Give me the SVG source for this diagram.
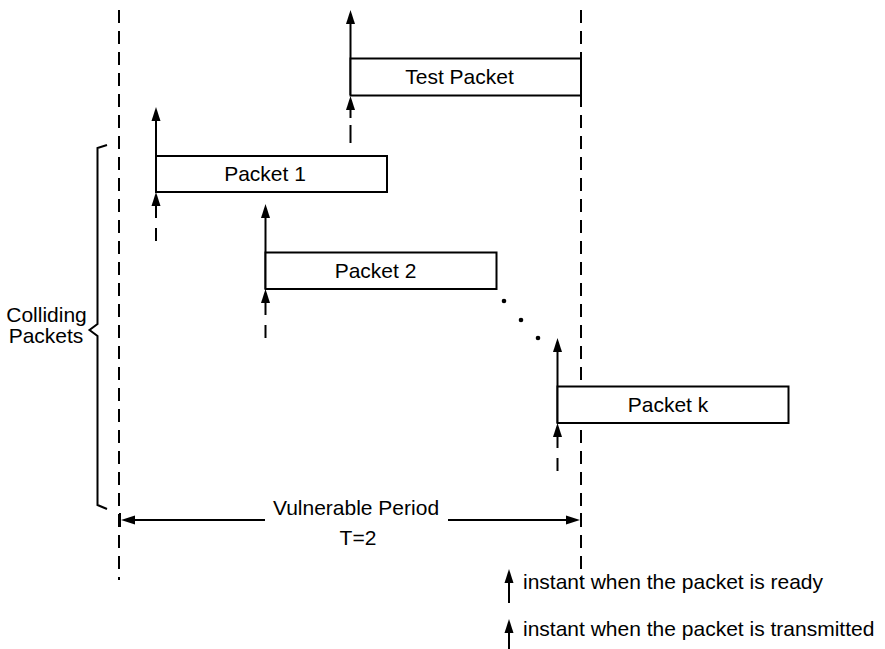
<svg xmlns="http://www.w3.org/2000/svg" width="885" height="649" viewBox="0 0 885 649">
<style>
.t{font-family:"Liberation Sans",Arial,Helvetica,sans-serif;font-size:21px;fill:#000}
.c{text-anchor:middle}
.box{fill:#fff;stroke:#000;stroke-width:2}
.ln{stroke:#000;stroke-width:2;fill:none}
.dash{stroke:#000;stroke-width:2;fill:none;stroke-dasharray:13 8}
.ah{fill:#000;stroke:none}
</style>
<defs>
<path id="up" d="M0,0 L-4.5,14 L4.5,14 Z"/>
</defs>
<rect width="885" height="649" fill="#fff"/>
<g id="period-bounds">
<line class="dash" x1="119" y1="10" x2="119" y2="580"/>
<line class="dash" x1="581" y1="10" x2="581" y2="580"/>
</g>
<g id="connectors">
<!-- Test packet arrows -->
<line class="ln" x1="350.5" y1="20" x2="350.5" y2="95"/>
<use href="#up" class="ah" x="350.5" y="10"/>
<use href="#up" class="ah" x="350.5" y="96"/>
<line class="ln" x1="350.5" y1="108" x2="350.5" y2="118"/>
<line class="ln" x1="350.5" y1="125" x2="350.5" y2="143"/>
<!-- Packet 1 arrows -->
<line class="ln" x1="156" y1="118" x2="156" y2="192"/>
<use href="#up" class="ah" x="156" y="107"/>
<use href="#up" class="ah" x="156" y="192"/>
<line class="ln" x1="156" y1="204" x2="156" y2="218"/>
<line class="ln" x1="156" y1="228" x2="156" y2="241"/>
<!-- Packet 2 arrows -->
<line class="ln" x1="265.5" y1="215" x2="265.5" y2="289"/>
<use href="#up" class="ah" x="265.5" y="204"/>
<use href="#up" class="ah" x="265.5" y="289"/>
<line class="ln" x1="265.5" y1="301" x2="265.5" y2="315"/>
<line class="ln" x1="265.5" y1="325" x2="265.5" y2="338"/>
<!-- Packet k arrows -->
<line class="ln" x1="557.5" y1="349" x2="557.5" y2="423"/>
<use href="#up" class="ah" x="557.5" y="338"/>
<use href="#up" class="ah" x="557.5" y="423"/>
<line class="ln" x1="557.5" y1="435" x2="557.5" y2="448"/>
<line class="ln" x1="557.5" y1="458" x2="557.5" y2="471"/>
<!-- dots -->
<circle cx="504" cy="301" r="2.3" fill="#000"/>
<circle cx="521" cy="320" r="2.3" fill="#000"/>
<circle cx="538" cy="338" r="2.3" fill="#000"/>
<!-- vulnerable period dimension -->
<line class="ln" x1="130" y1="520" x2="265" y2="520"/>
<line class="ln" x1="448" y1="520" x2="570" y2="520"/>
<path class="ah" d="M121,520 L135,515.5 L135,524.5 Z"/>
<path class="ah" d="M580,520 L566,515.5 L566,524.5 Z"/>
<line class="ln" x1="120" y1="513" x2="120" y2="527"/>
<line class="ln" x1="581" y1="513" x2="581" y2="527"/>
<!-- brace -->
<path class="ln" d="M107,145 L97.5,148 L97.5,324 L89.5,330 L97.5,336 L97.5,505 L107,509"/>
</g>
<g id="test-packet">
<rect class="box" x="350.5" y="58.5" width="230.5" height="37"/>
<text class="t c" x="459.5" y="84">Test Packet</text>
</g>
<g id="packet-1">
<rect class="box" x="156" y="156" width="231" height="36"/>
<text class="t c" x="265" y="181">Packet 1</text>
</g>
<g id="packet-2">
<rect class="box" x="265.5" y="252.5" width="231" height="36.5"/>
<text class="t c" x="375.5" y="277.5">Packet 2</text>
</g>
<g id="packet-k">
<rect class="box" x="557.5" y="386.5" width="231" height="36.5"/>
<text class="t c" x="668" y="411.5">Packet k</text>
</g>
<g id="colliding-label">
<text class="t c" x="46.5" y="322">Colliding</text>
<text class="t c" x="46" y="343">Packets</text>
</g>
<g id="period-label">
<text class="t c" x="356" y="515">Vulnerable Period</text>
<text class="t c" x="358" y="545">T=2</text>
</g>
<g id="legend">
<use href="#up" class="ah" x="509" y="569"/>
<line class="ln" x1="509" y1="580" x2="509" y2="603"/>
<text class="t" x="523" y="589">instant when the packet is ready</text>
<use href="#up" class="ah" x="509" y="619"/>
<line class="ln" x1="509" y1="630" x2="509" y2="649"/>
<text class="t" x="523" y="636">instant when the packet is transmitted</text>
</g>
</svg>
